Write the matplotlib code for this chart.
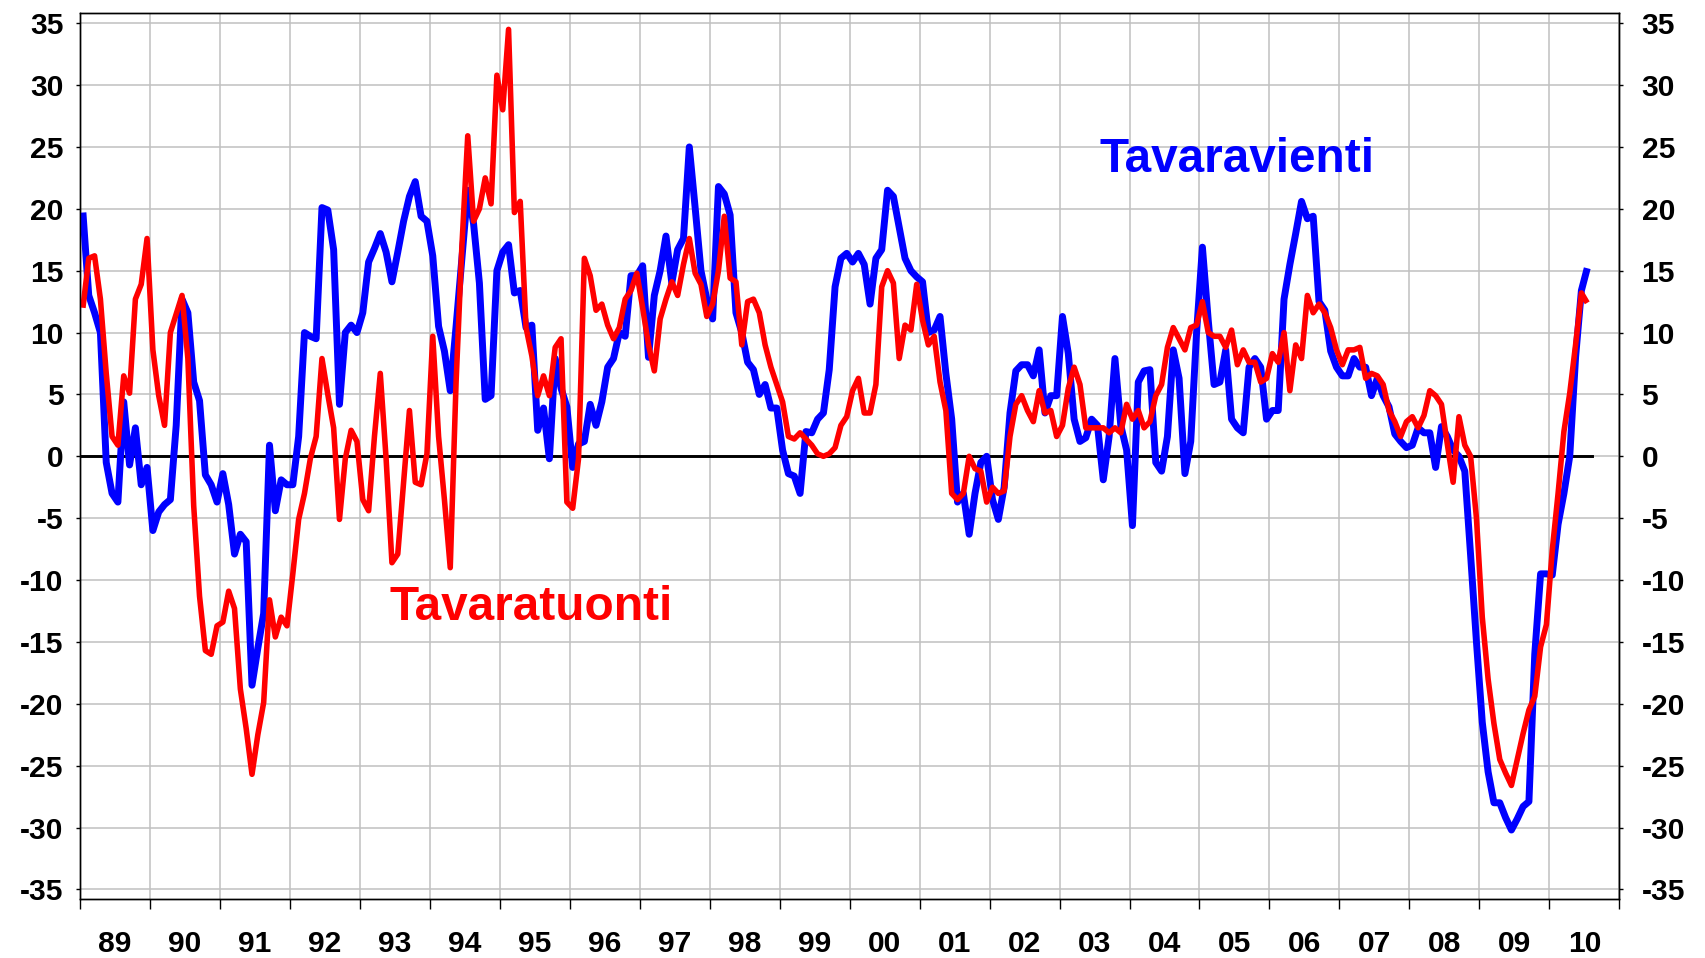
import matplotlib
matplotlib.use('Agg')
import matplotlib.pyplot as plt
import numpy as np

plt.rcParams['font.family'] = ['Liberation Sans', 'DejaVu Sans']
plt.rcParams['font.weight'] = 'bold'
plt.rcParams['axes.unicode_minus'] = False

# Monthly series, Jan 1989 .. Jul 2010 (% change y/y)
years = list(range(1989, 2011))
year_labels = [f"{y % 100:02d}" for y in years]
y_ticks = list(range(-35, 40, 5))

tavaravienti = [
    19.7, 13, 11.6, 10, -0.5, -3, -3.7, 4.4, -0.7, 2.3, -2.3, -0.9,
    -6, -4.5, -3.9, -3.5, 2.5, 12.7, 11.6, 6, 4.5, -1.5, -2.3, -3.7,
    -1.4, -3.9, -7.9, -6.3, -6.9, -18.5, -15.5, -12.7, 0.9, -4.4, -1.9, -2.3,
    -2.3, 1.6, 10, 9.7, 9.5, 20.1, 19.9, 16.7, 4.2, 10, 10.6, 10,
    11.6, 15.7, 16.8, 18, 16.5, 14.1, 16.5, 19, 21, 22.2, 19.4, 19,
    16.2, 10.5, 8.5, 5.3, 10.5, 16, 21.5, 18.8, 14, 4.6, 4.9, 15,
    16.5, 17.1, 13.2, 13.4, 10.4, 10.6, 2.1, 3.9, -0.2, 7.9, 5.5, 4,
    -0.9, 1, 1.2, 4.2, 2.5, 4.4, 7.2, 7.9, 10, 9.7, 14.6, 14.6,
    15.4, 8, 13, 15, 17.8, 14, 16.7, 17.6, 25, 20.1, 15, 12.7,
    11.1, 21.8, 21.2, 19.5, 11.6, 10, 7.6, 7, 5, 5.8, 3.9, 3.9,
    0.5, -1.4, -1.6, -3, 2, 1.9, 3, 3.5, 7, 13.7, 16, 16.4,
    15.7, 16.4, 15.5, 12.3, 16, 16.7, 21.5, 21, 18.5, 16, 15, 14.5,
    14.1, 10, 10.2, 11.3, 6.7, 3, -3.7, -3, -6.3, -3, -0.5, 0,
    -3.5, -5.1, -2.5, 3.5, 6.9, 7.4, 7.4, 6.5, 8.6, 3.5, 4.9, 4.9,
    11.3, 8.3, 3, 1.2, 1.5, 3, 2.5, -1.9, 1.6, 7.9, 2.5, 0.5,
    -5.6, 6, 6.9, 7, -0.5, -1.2, 1.6, 8.6, 6.3, -1.4, 1.2, 10,
    16.9, 11, 5.8, 6, 8.6, 3, 2.3, 1.9, 7.2, 7.9, 7.2, 3,
    3.7, 3.7, 12.7, 15.5, 18, 20.6, 19.2, 19.4, 12.5, 11.8, 8.5, 7.2,
    6.5, 6.5, 7.9, 7.2, 7.2, 4.9, 6.3, 4.9, 4, 1.8, 1.2, 0.7,
    0.9, 2.3, 1.9, 1.9, -0.9, 2.4, 1.6, 0.5, 0, -1.2, -8, -15,
    -21.5, -25.5, -28, -28, -29.2, -30.2, -29.3, -28.3, -27.9, -16, -9.5, -9.5,
    -9.6, -5.5, -3, 0, 8, 13.4, 15.2,
]

tavaratuonti = [
    12, 16, 16.2, 12.7, 6.7, 1.6, 0.9, 6.5, 5.1, 12.7, 13.9, 17.6,
    8.6, 4.9, 2.5, 10, 11.5, 13, 7.9, -4, -11.3, -15.7, -16, -13.7,
    -13.4, -10.9, -12.3, -18.8, -22, -25.7, -22.5, -19.9, -11.6, -14.6, -13, -13.7,
    -9.5, -5.1, -3, -0.2, 1.6, 7.9, 5, 2.3, -5.1, -0.2, 2.1, 1.2,
    -3.5, -4.4, 1.6, 6.7, -0.2, -8.6, -7.9, -2.1, 3.7, -2.1, -2.3, 0.2,
    9.7, 1.6, -3.5, -9, 6, 17, 25.9, 19, 20, 22.5, 20.4, 30.8,
    28, 34.5, 19.7, 20.6, 10.4, 8.1, 4.9, 6.5, 4.9, 8.8, 9.5, -3.7,
    -4.2, -0.2, 16, 14.6, 11.8, 12.3, 10.6, 9.5, 10.4, 12.7, 13.4, 14.8,
    12, 9, 6.9, 11.1, 12.7, 14.1, 13, 15.5, 17.6, 14.8, 13.9, 11.3,
    12.3, 15, 19.4, 14.4, 14.1, 9, 12.5, 12.7, 11.6, 9, 7.2, 5.8,
    4.4, 1.6, 1.4, 1.9, 1.4, 0.9, 0.2, 0, 0.2, 0.7, 2.5, 3.2,
    5.3, 6.3, 3.5, 3.5, 5.8, 13.7, 15, 14, 7.9, 10.6, 10.2, 13.9,
    11, 9, 9.7, 6, 3.7, -3, -3.5, -3, 0, -1, -1.2, -3.7,
    -2.5, -3, -2.8, 1.6, 4.2, 4.9, 3.7, 2.8, 5.3, 3.5, 3.7, 1.6,
    2.5, 5.5, 7.2, 5.8, 2.3, 2.3, 2.3, 2.3, 1.9, 2.3, 1.9, 4.2,
    3, 3.7, 2.3, 2.8, 4.9, 5.8, 8.8, 10.4, 9.5, 8.6, 10.4, 10.6,
    12.5, 10, 9.7, 9.7, 8.8, 10.2, 7.4, 8.6, 7.6, 7.6, 6, 6.3,
    8.3, 7.6, 10, 5.3, 9, 7.9, 13, 11.6, 12.3, 11.6, 10.4, 8.6,
    7.4, 8.6, 8.6, 8.8, 6.3, 6.7, 6.5, 5.8, 3.7, 2.8, 1.6, 2.8,
    3.2, 2.3, 3.3, 5.3, 4.9, 4.2, 1.0, -2.1, 3.2, 0.9, 0, -5,
    -13, -18, -21.6, -24.5, -25.6, -26.6, -24.5, -22.4, -20.5, -19.4, -15.4, -13.6,
    -7.6, -3, 2, 5.1, 9, 13.2, 12.4,
]

W, H = 1706, 958
fig = plt.figure(figsize=(W / 100, H / 100), dpi=100)
left, right, top, bottom = 80, 1619.3, 13.3, 899.3
ax = fig.add_axes([left / W, 1 - bottom / H, (right - left) / W, (bottom - top) / H])

n_months = len(years) * 12
x = np.arange(len(tavaravienti)) + 0.5

ax.set_xlim(0, n_months)
ax.set_ylim(-35.8, 35.8)
ax.set_axisbelow(True)

ax.plot([0, 259.4], [0, 0], color='black', lw=2.1, zorder=2.5)
ax.plot(x, tavaravienti, color='#0000FF', lw=5.0, solid_joinstyle='round',
        solid_capstyle='butt', zorder=3)
ax.plot(x, tavaratuonti, color='#FF0000', lw=4.0, solid_joinstyle='round',
        solid_capstyle='butt', zorder=4)

# x axis: boundaries as major ticks, year labels centred as minor ticks
ax.set_xticks(np.arange(0, n_months + 1, 12))
ax.set_xticklabels([])
ax.set_xticks(np.arange(6, n_months, 12), minor=True)
ax.set_xticklabels(year_labels, minor=True)
ax.tick_params(axis='x', which='major', direction='out', length=7.2, width=1.0)
ax.tick_params(axis='x', which='minor', length=0, pad=22.3, labelsize=21.6)

ax.set_yticks(y_ticks)
ax.set_yticklabels([str(v) for v in y_ticks])
ax.tick_params(axis='y', direction='out', length=3, width=1.0, labelsize=21.6, pad=9)

ax2 = ax.twinx()
ax2.set_ylim(ax.get_ylim())
ax2.set_yticks(y_ticks)
ax2.set_yticklabels([str(v) for v in y_ticks])
ax2.tick_params(axis='y', direction='out', length=3, width=1.0, labelsize=21.6, pad=13)

ax.grid(True, which='major', color='#C0C0C0', lw=1.1)
for a in (ax, ax2):
    for s in a.spines.values():
        s.set_linewidth(1.0)
        s.set_color('black')

ax.text(174.8, 23.0, 'Tavaravienti', color='#0000FF', fontsize=34.4,
        fontweight='bold', ha='left', va='baseline', zorder=5)
ax.text(53, -13.2, 'Tavaratuonti', color='#FF0000', fontsize=34.4,
        fontweight='bold', ha='left', va='baseline', zorder=5)

fig.savefig('out.png', dpi=100)
